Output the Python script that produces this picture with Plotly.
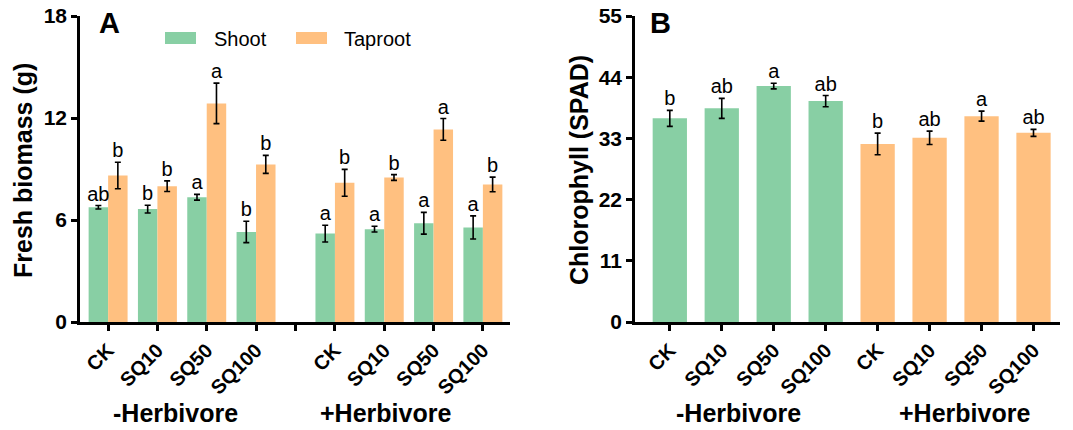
import plotly.graph_objects as go

# ---------------- data ----------------
treatments = ["CK", "SQ10", "SQ50", "SQ100"]
groups = ["-Herbivore", "+Herbivore"]

# Panel A: fresh biomass (g), order: -Herbivore (CK..SQ100), +Herbivore (CK..SQ100)
shoot_mean = [6.75, 6.64, 7.34, 5.30, 5.20, 5.46, 5.81, 5.56]
shoot_err = [0.10, 0.23, 0.17, 0.63, 0.49, 0.17, 0.64, 0.68]
shoot_sig = ["ab", "b", "a", "b", "a", "a", "a", "a"]
taproot_mean = [8.62, 7.99, 12.86, 9.27, 8.19, 8.50, 11.33, 8.09]
taproot_err = [0.78, 0.31, 1.19, 0.53, 0.79, 0.17, 0.64, 0.43]
taproot_sig = ["b", "b", "a", "b", "b", "b", "a", "b"]

# Panel B: chlorophyll (SPAD)
chl_mean = [36.6, 38.4, 42.4, 39.7, 32.0, 33.1, 37.0, 34.0]
chl_err = [1.44, 1.80, 0.50, 1.00, 1.95, 1.20, 0.90, 0.63]
chl_sig = ["b", "ab", "a", "ab", "b", "ab", "a", "ab"]

yticks_A = [0, 6, 12, 18]
yticks_B = [0, 11, 22, 33, 44, 55]

# ---------------- style ----------------
GREEN = "#88CFA4"
ORANGE = "#FFC080"
FONT = "Liberation Sans, Arial, sans-serif"
W, H = 1073, 430

n = len(treatments)
labels = treatments * len(groups)
gapA = 0.6  # extra spacing between the two herbivore groups in panel A
posA = [i + (gapA if i >= n else 0) for i in range(len(labels))]
posB = list(range(len(labels)))
bwA = 0.395
bwB = 0.66

fig = go.Figure()

err_style = dict(type="data", visible=True, color="black", thickness=1.6, width=3)
sig_font = dict(family=FONT, size=20, color="black")

fig.add_trace(go.Bar(x=[p - bwA / 2 for p in posA], y=shoot_mean, width=bwA,
                     marker=dict(color=GREEN, line=dict(width=0)),
                     error_y=dict(array=shoot_err, **err_style),
                     xaxis="x", yaxis="y", showlegend=False, name="Shoot"))
fig.add_trace(go.Bar(x=[p + bwA / 2 for p in posA], y=taproot_mean, width=bwA,
                     marker=dict(color=ORANGE, line=dict(width=0)),
                     error_y=dict(array=taproot_err, **err_style),
                     xaxis="x", yaxis="y", showlegend=False, name="Taproot"))

fig.add_trace(go.Scatter(x=[p - bwA / 2 for p in posA],
                         y=[m + e for m, e in zip(shoot_mean, shoot_err)],
                         text=shoot_sig, mode="text", textposition="top center",
                         textfont=sig_font,
                         xaxis="x", yaxis="y", showlegend=False, cliponaxis=False))
fig.add_trace(go.Scatter(x=[p + bwA / 2 for p in posA],
                         y=[m + e for m, e in zip(taproot_mean, taproot_err)],
                         text=taproot_sig, mode="text", textposition="top center",
                         textfont=sig_font,
                         xaxis="x", yaxis="y", showlegend=False, cliponaxis=False))

colorsB = [GREEN] * n + [ORANGE] * n
fig.add_trace(go.Bar(x=posB, y=chl_mean, width=bwB,
                     marker=dict(color=colorsB, line=dict(width=0)),
                     error_y=dict(array=chl_err, **err_style),
                     xaxis="x2", yaxis="y2", showlegend=False))
fig.add_trace(go.Scatter(x=posB, y=[m + e for m, e in zip(chl_mean, chl_err)],
                         text=chl_sig, mode="text", textposition="top center",
                         textfont=sig_font,
                         xaxis="x2", yaxis="y2", showlegend=False, cliponaxis=False))

ytop = 1 - 16 / H
ybot = 1 - 322 / H

axis_common = dict(showline=True, linewidth=2.5, linecolor="black", ticks="outside",
                   ticklen=6, tickwidth=2.5, tickcolor="black", showgrid=False,
                   zeroline=False, color="black", automargin=False)

tickvalsA = posA[:n] + [(posA[n - 1] + posA[n]) / 2] + posA[n:]
ticktextA = labels[:n] + [""] + labels[n:]

xtickfont = dict(family=FONT, size=20, color="black", weight="bold")
ytickfont = dict(family=FONT, size=21, color="black", weight="bold")

fig.update_layout(
    width=W, height=H,
    margin=dict(l=0, r=0, t=0, b=0, pad=0, autoexpand=False),
    paper_bgcolor="white", plot_bgcolor="white",
    barmode="overlay",
    font=dict(family=FONT, color="black"),
    xaxis=dict(domain=[80 / W, 510 / W], range=[-0.57, 8.15], anchor="y",
               tickvals=tickvalsA, ticktext=ticktextA, tickangle=-45,
               tickfont=xtickfont, **axis_common),
    yaxis=dict(domain=[ybot, ytop], range=[0, 18], anchor="x", tickvals=yticks_A,
               tickfont=ytickfont, **axis_common),
    xaxis2=dict(domain=[635 / W, 1060 / W], range=[-0.67, 7.51], anchor="y2",
                tickvals=posB, ticktext=labels, tickangle=-45,
                tickfont=xtickfont, **axis_common),
    yaxis2=dict(domain=[ybot, ytop], range=[0, 55], anchor="x2", tickvals=yticks_B,
                tickfont=ytickfont, **axis_common),
)

def px_x(v):
    return v / W

def px_y(v):
    return 1 - v / H

ann = []
# y-axis titles
ann.append(dict(text="<b>Fresh biomass (g)</b>", x=px_x(23), y=px_y(171), xref="paper", yref="paper",
                textangle=-90, showarrow=False, font=dict(family=FONT, size=25, color="black"),
                xanchor="center", yanchor="middle"))
ann.append(dict(text="<b>Chlorophyll (SPAD)</b>", x=px_x(579), y=px_y(170), xref="paper", yref="paper",
                textangle=-90, showarrow=False, font=dict(family=FONT, size=25, color="black"),
                xanchor="center", yanchor="middle"))
# panel letters
ann.append(dict(text="<b>A</b>", x=px_x(97), y=px_y(23), xref="paper", yref="paper", showarrow=False,
                font=dict(family=FONT, size=29, color="black"), xanchor="left", yanchor="middle"))
ann.append(dict(text="<b>B</b>", x=px_x(648), y=px_y(23), xref="paper", yref="paper", showarrow=False,
                font=dict(family=FONT, size=29, color="black"), xanchor="left", yanchor="middle"))
# group labels
for g, cx in zip(groups, [175, 385]):
    ann.append(dict(text="<b>%s</b>" % g, x=px_x(cx), y=px_y(413), xref="paper", yref="paper",
                    showarrow=False, font=dict(family=FONT, size=25, color="black"),
                    xanchor="center", yanchor="middle"))
for g, cx in zip(groups, [738, 964]):
    ann.append(dict(text="<b>%s</b>" % g, x=px_x(cx), y=px_y(413), xref="paper", yref="paper",
                    showarrow=False, font=dict(family=FONT, size=25, color="black"),
                    xanchor="center", yanchor="middle"))
# legend text
ann.append(dict(text="Shoot", x=px_x(212), y=px_y(39), xref="paper", yref="paper", showarrow=False,
                font=dict(family=FONT, size=20, color="black"), xanchor="left", yanchor="middle"))
ann.append(dict(text="Taproot", x=px_x(342), y=px_y(39), xref="paper", yref="paper", showarrow=False,
                font=dict(family=FONT, size=20, color="black"), xanchor="left", yanchor="middle"))

shapes = [
    dict(type="rect", xref="paper", yref="paper", x0=px_x(165), x1=px_x(196), y0=px_y(44), y1=px_y(32),
         fillcolor=GREEN, line=dict(width=0)),
    dict(type="rect", xref="paper", yref="paper", x0=px_x(296), x1=px_x(327), y0=px_y(44), y1=px_y(32),
         fillcolor=ORANGE, line=dict(width=0)),
]

fig.update_layout(annotations=ann, shapes=shapes)

fig.write_html("out.html")
